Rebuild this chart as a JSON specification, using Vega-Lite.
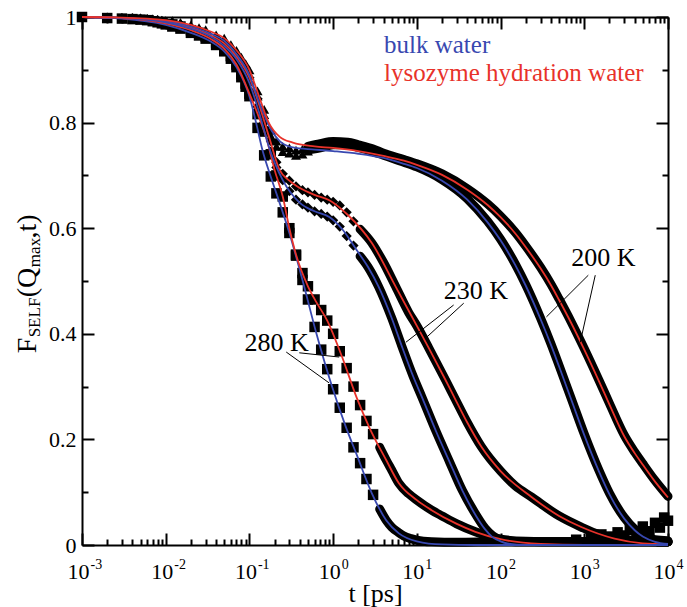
{
"$schema":"https://vega.github.io/schema/vega-lite/v6.json",
"width":586,"height":528,
"autosize":{"type":"none"},
"padding":{"left":82,"top":17,"right":19,"bottom":62},
"background":"white",
"config":{"view":{"stroke":null},"font":"Liberation Serif","axis":{"grid":false,"domainColor":"black","tickColor":"black","labelColor":"black","titleColor":"black","labelFont":"Liberation Serif","titleFont":"Liberation Serif","titleFontWeight":"normal"},"text":{"font":"Liberation Serif"}},
"datasets":{
"fits":[
{"T":"280","type":"bulk","t":0.001,"F":1},{"T":"280","type":"bulk","t":0.003,"F":0.997},{"T":"280","type":"bulk","t":0.01,"F":0.985},{"T":"280","type":"bulk","t":0.02,"F":0.97},{"T":"280","type":"bulk","t":0.035,"F":0.953},{"T":"280","type":"bulk","t":0.05,"F":0.935},{"T":"280","type":"bulk","t":0.07,"F":0.905},{"T":"280","type":"bulk","t":0.1,"F":0.85},{"T":"280","type":"bulk","t":0.12,"F":0.8},{"T":"280","type":"bulk","t":0.143,"F":0.748},{"T":"280","type":"bulk","t":0.175,"F":0.703},{"T":"280","type":"bulk","t":0.21,"F":0.666},{"T":"280","type":"bulk","t":0.3,"F":0.591},{"T":"280","type":"bulk","t":0.43,"F":0.502},{"T":"280","type":"bulk","t":0.63,"F":0.401},{"T":"280","type":"bulk","t":0.97,"F":0.3},{"T":"280","type":"bulk","t":1.4,"F":0.226},{"T":"280","type":"bulk","t":1.9,"F":0.172},{"T":"280","type":"bulk","t":2.9,"F":0.098},{"T":"280","type":"bulk","t":4.3,"F":0.047},{"T":"280","type":"bulk","t":6.1,"F":0.022},{"T":"280","type":"bulk","t":10,"F":0.007},{"T":"280","type":"bulk","t":20,"F":0.001},{"T":"280","type":"bulk","t":50,"F":0},{"T":"280","type":"bulk","t":10000,"F":0},
{"T":"280","type":"hydration","t":0.001,"F":1},{"T":"280","type":"hydration","t":0.003,"F":0.998},{"T":"280","type":"hydration","t":0.01,"F":0.988},{"T":"280","type":"hydration","t":0.02,"F":0.975},{"T":"280","type":"hydration","t":0.035,"F":0.958},{"T":"280","type":"hydration","t":0.05,"F":0.94},{"T":"280","type":"hydration","t":0.07,"F":0.91},{"T":"280","type":"hydration","t":0.1,"F":0.855},{"T":"280","type":"hydration","t":0.13,"F":0.81},{"T":"280","type":"hydration","t":0.16,"F":0.77},{"T":"280","type":"hydration","t":0.2,"F":0.71},{"T":"280","type":"hydration","t":0.25,"F":0.66},{"T":"280","type":"hydration","t":0.3,"F":0.6},{"T":"280","type":"hydration","t":0.36,"F":0.55},{"T":"280","type":"hydration","t":0.5,"F":0.49},{"T":"280","type":"hydration","t":0.63,"F":0.46},{"T":"280","type":"hydration","t":0.85,"F":0.425},{"T":"280","type":"hydration","t":1.28,"F":0.356},{"T":"280","type":"hydration","t":1.9,"F":0.28},{"T":"280","type":"hydration","t":2.7,"F":0.223},{"T":"280","type":"hydration","t":4.3,"F":0.161},{"T":"280","type":"hydration","t":6.1,"F":0.117},{"T":"280","type":"hydration","t":10,"F":0.085},{"T":"280","type":"hydration","t":15,"F":0.066},{"T":"280","type":"hydration","t":30,"F":0.04},{"T":"280","type":"hydration","t":50,"F":0.025},{"T":"280","type":"hydration","t":100,"F":0.011},{"T":"280","type":"hydration","t":300,"F":0.002},{"T":"280","type":"hydration","t":1000,"F":0},{"T":"280","type":"hydration","t":10000,"F":0},
{"T":"230","type":"hydration","t":0.001,"F":1},{"T":"230","type":"hydration","t":0.003,"F":0.998},{"T":"230","type":"hydration","t":0.01,"F":0.991},{"T":"230","type":"hydration","t":0.02,"F":0.98},{"T":"230","type":"hydration","t":0.035,"F":0.965},{"T":"230","type":"hydration","t":0.05,"F":0.95},{"T":"230","type":"hydration","t":0.07,"F":0.925},{"T":"230","type":"hydration","t":0.1,"F":0.885},{"T":"230","type":"hydration","t":0.13,"F":0.835},{"T":"230","type":"hydration","t":0.17,"F":0.775},{"T":"230","type":"hydration","t":0.23,"F":0.71},{"T":"230","type":"hydration","t":0.3,"F":0.69},{"T":"230","type":"hydration","t":0.4,"F":0.676},{"T":"230","type":"hydration","t":0.6,"F":0.663},{"T":"230","type":"hydration","t":0.9,"F":0.653},{"T":"230","type":"hydration","t":1.5,"F":0.625},{"T":"230","type":"hydration","t":2.9,"F":0.572},{"T":"230","type":"hydration","t":5.6,"F":0.489},{"T":"230","type":"hydration","t":10,"F":0.415},{"T":"230","type":"hydration","t":14,"F":0.372},{"T":"230","type":"hydration","t":22,"F":0.3125},{"T":"230","type":"hydration","t":29,"F":0.275},{"T":"230","type":"hydration","t":40,"F":0.232},{"T":"230","type":"hydration","t":59,"F":0.186},{"T":"230","type":"hydration","t":100,"F":0.14},{"T":"230","type":"hydration","t":234,"F":0.091},{"T":"230","type":"hydration","t":500,"F":0.055},{"T":"230","type":"hydration","t":920,"F":0.034},{"T":"230","type":"hydration","t":2300,"F":0.012},{"T":"230","type":"hydration","t":5000,"F":0.003},{"T":"230","type":"hydration","t":10000,"F":0.001},
{"T":"230","type":"bulk","t":0.001,"F":1},{"T":"230","type":"bulk","t":0.003,"F":0.998},{"T":"230","type":"bulk","t":0.01,"F":0.99},{"T":"230","type":"bulk","t":0.02,"F":0.978},{"T":"230","type":"bulk","t":0.035,"F":0.962},{"T":"230","type":"bulk","t":0.05,"F":0.945},{"T":"230","type":"bulk","t":0.07,"F":0.92},{"T":"230","type":"bulk","t":0.1,"F":0.875},{"T":"230","type":"bulk","t":0.13,"F":0.82},{"T":"230","type":"bulk","t":0.17,"F":0.755},{"T":"230","type":"bulk","t":0.25,"F":0.691},{"T":"230","type":"bulk","t":0.4,"F":0.648},{"T":"230","type":"bulk","t":0.6,"F":0.632},{"T":"230","type":"bulk","t":0.9,"F":0.621},{"T":"230","type":"bulk","t":1.3,"F":0.597},{"T":"230","type":"bulk","t":1.9,"F":0.559},{"T":"230","type":"bulk","t":2.6,"F":0.527},{"T":"230","type":"bulk","t":3.5,"F":0.489},{"T":"230","type":"bulk","t":5,"F":0.43},{"T":"230","type":"bulk","t":6.6,"F":0.377},{"T":"230","type":"bulk","t":9,"F":0.32},{"T":"230","type":"bulk","t":11.5,"F":0.28},{"T":"230","type":"bulk","t":17,"F":0.215},{"T":"230","type":"bulk","t":24.5,"F":0.158},{"T":"230","type":"bulk","t":35,"F":0.103},{"T":"230","type":"bulk","t":51,"F":0.055},{"T":"230","type":"bulk","t":65,"F":0.03},{"T":"230","type":"bulk","t":80,"F":0.015},{"T":"230","type":"bulk","t":100,"F":0.007},{"T":"230","type":"bulk","t":120,"F":0.003},{"T":"230","type":"bulk","t":200,"F":0},{"T":"230","type":"bulk","t":10000,"F":0},
{"T":"200","type":"bulk","t":0.001,"F":1},{"T":"200","type":"bulk","t":0.003,"F":0.998},{"T":"200","type":"bulk","t":0.01,"F":0.992},{"T":"200","type":"bulk","t":0.02,"F":0.982},{"T":"200","type":"bulk","t":0.035,"F":0.968},{"T":"200","type":"bulk","t":0.05,"F":0.955},{"T":"200","type":"bulk","t":0.07,"F":0.93},{"T":"200","type":"bulk","t":0.1,"F":0.89},{"T":"200","type":"bulk","t":0.13,"F":0.84},{"T":"200","type":"bulk","t":0.17,"F":0.795},{"T":"200","type":"bulk","t":0.23,"F":0.765},{"T":"200","type":"bulk","t":0.33,"F":0.753},{"T":"200","type":"bulk","t":0.6,"F":0.749},{"T":"200","type":"bulk","t":1,"F":0.746},{"T":"200","type":"bulk","t":2,"F":0.741},{"T":"200","type":"bulk","t":4,"F":0.733},{"T":"200","type":"bulk","t":7,"F":0.722},{"T":"200","type":"bulk","t":10,"F":0.714},{"T":"200","type":"bulk","t":20,"F":0.69},{"T":"200","type":"bulk","t":40,"F":0.654},{"T":"200","type":"bulk","t":70,"F":0.611},{"T":"200","type":"bulk","t":100,"F":0.577},{"T":"200","type":"bulk","t":150,"F":0.53},{"T":"200","type":"bulk","t":200,"F":0.491},{"T":"200","type":"bulk","t":300,"F":0.428},{"T":"200","type":"bulk","t":400,"F":0.379},{"T":"200","type":"bulk","t":500,"F":0.338},{"T":"200","type":"bulk","t":700,"F":0.275},{"T":"200","type":"bulk","t":1000,"F":0.208},{"T":"200","type":"bulk","t":1500,"F":0.139},{"T":"200","type":"bulk","t":2000,"F":0.096},{"T":"200","type":"bulk","t":3000,"F":0.05},{"T":"200","type":"bulk","t":4000,"F":0.028},{"T":"200","type":"bulk","t":5000,"F":0.016},{"T":"200","type":"bulk","t":7000,"F":0.006},{"T":"200","type":"bulk","t":10000,"F":0.002},
{"T":"200","type":"hydration","t":0.001,"F":1},{"T":"200","type":"hydration","t":0.003,"F":0.999},{"T":"200","type":"hydration","t":0.01,"F":0.994},{"T":"200","type":"hydration","t":0.02,"F":0.985},{"T":"200","type":"hydration","t":0.035,"F":0.972},{"T":"200","type":"hydration","t":0.05,"F":0.96},{"T":"200","type":"hydration","t":0.07,"F":0.937},{"T":"200","type":"hydration","t":0.1,"F":0.9},{"T":"200","type":"hydration","t":0.13,"F":0.85},{"T":"200","type":"hydration","t":0.17,"F":0.8},{"T":"200","type":"hydration","t":0.23,"F":0.773},{"T":"200","type":"hydration","t":0.33,"F":0.762},{"T":"200","type":"hydration","t":0.6,"F":0.755},{"T":"200","type":"hydration","t":1,"F":0.752},{"T":"200","type":"hydration","t":2,"F":0.746},{"T":"200","type":"hydration","t":4,"F":0.737},{"T":"200","type":"hydration","t":7,"F":0.728},{"T":"200","type":"hydration","t":10,"F":0.72},{"T":"200","type":"hydration","t":20,"F":0.701},{"T":"200","type":"hydration","t":40,"F":0.673},{"T":"200","type":"hydration","t":70,"F":0.644},{"T":"200","type":"hydration","t":100,"F":0.621},{"T":"200","type":"hydration","t":150,"F":0.59},{"T":"200","type":"hydration","t":200,"F":0.564},{"T":"200","type":"hydration","t":300,"F":0.524},{"T":"200","type":"hydration","t":400,"F":0.492},{"T":"200","type":"hydration","t":500,"F":0.464},{"T":"200","type":"hydration","t":700,"F":0.42},{"T":"200","type":"hydration","t":1000,"F":0.37},{"T":"200","type":"hydration","t":1500,"F":0.31},{"T":"200","type":"hydration","t":2000,"F":0.266},{"T":"200","type":"hydration","t":3000,"F":0.206},{"T":"200","type":"hydration","t":4000,"F":0.174},{"T":"200","type":"hydration","t":5000,"F":0.152},{"T":"200","type":"hydration","t":7000,"F":0.12},{"T":"200","type":"hydration","t":10000,"F":0.09}
],
"bands":[
{"T":"280","type":"bulk","t":3.6,"F":0.068},{"T":"280","type":"bulk","t":4.3,"F":0.047},{"T":"280","type":"bulk","t":5,"F":0.034},{"T":"280","type":"bulk","t":6,"F":0.024},{"T":"280","type":"bulk","t":7,"F":0.017},{"T":"280","type":"bulk","t":8.5,"F":0.012},{"T":"280","type":"bulk","t":10,"F":0.009},{"T":"280","type":"bulk","t":15,"F":0.006},{"T":"280","type":"bulk","t":30,"F":0.005},{"T":"280","type":"bulk","t":100,"F":0.006},{"T":"280","type":"bulk","t":1000,"F":0.006},{"T":"280","type":"bulk","t":10000,"F":0.006},
{"T":"280","type":"hydration","t":3.6,"F":0.185},{"T":"280","type":"hydration","t":4.3,"F":0.161},{"T":"280","type":"hydration","t":5,"F":0.142},{"T":"280","type":"hydration","t":6.1,"F":0.117},{"T":"280","type":"hydration","t":8,"F":0.097},{"T":"280","type":"hydration","t":10,"F":0.085},{"T":"280","type":"hydration","t":15,"F":0.066},{"T":"280","type":"hydration","t":20,"F":0.055},{"T":"280","type":"hydration","t":30,"F":0.04},{"T":"280","type":"hydration","t":50,"F":0.025},{"T":"280","type":"hydration","t":70,"F":0.017},{"T":"280","type":"hydration","t":100,"F":0.011},{"T":"280","type":"hydration","t":200,"F":0.007},{"T":"280","type":"hydration","t":500,"F":0.006},{"T":"280","type":"hydration","t":10000,"F":0.006},
{"T":"230","type":"bulk","t":2.1,"F":0.547},{"T":"230","type":"bulk","t":2.6,"F":0.527},{"T":"230","type":"bulk","t":3.5,"F":0.489},{"T":"230","type":"bulk","t":5,"F":0.43},{"T":"230","type":"bulk","t":6.6,"F":0.377},{"T":"230","type":"bulk","t":9,"F":0.32},{"T":"230","type":"bulk","t":11.5,"F":0.28},{"T":"230","type":"bulk","t":17,"F":0.215},{"T":"230","type":"bulk","t":24.5,"F":0.158},{"T":"230","type":"bulk","t":35,"F":0.103},{"T":"230","type":"bulk","t":51,"F":0.057},{"T":"230","type":"bulk","t":65,"F":0.032},{"T":"230","type":"bulk","t":80,"F":0.018},{"T":"230","type":"bulk","t":100,"F":0.01},{"T":"230","type":"bulk","t":150,"F":0.006},{"T":"230","type":"bulk","t":10000,"F":0.006},
{"T":"230","type":"hydration","t":2.1,"F":0.598},{"T":"230","type":"hydration","t":2.9,"F":0.572},{"T":"230","type":"hydration","t":4,"F":0.535},{"T":"230","type":"hydration","t":5.6,"F":0.489},{"T":"230","type":"hydration","t":8,"F":0.44},{"T":"230","type":"hydration","t":10,"F":0.415},{"T":"230","type":"hydration","t":14,"F":0.372},{"T":"230","type":"hydration","t":22,"F":0.3125},{"T":"230","type":"hydration","t":29,"F":0.275},{"T":"230","type":"hydration","t":40,"F":0.232},{"T":"230","type":"hydration","t":59,"F":0.186},{"T":"230","type":"hydration","t":100,"F":0.14},{"T":"230","type":"hydration","t":150,"F":0.112},{"T":"230","type":"hydration","t":234,"F":0.091},{"T":"230","type":"hydration","t":500,"F":0.055},{"T":"230","type":"hydration","t":920,"F":0.034},{"T":"230","type":"hydration","t":1500,"F":0.02},{"T":"230","type":"hydration","t":2300,"F":0.013},{"T":"230","type":"hydration","t":5000,"F":0.007},{"T":"230","type":"hydration","t":10000,"F":0.006},
{"T":"200","type":"bulk","t":0.5,"F":0.748},{"T":"200","type":"bulk","t":0.7,"F":0.752},{"T":"200","type":"bulk","t":1,"F":0.758},{"T":"200","type":"bulk","t":1.5,"F":0.758},{"T":"200","type":"bulk","t":2,"F":0.753},{"T":"200","type":"bulk","t":3,"F":0.745},{"T":"200","type":"bulk","t":4,"F":0.738},{"T":"200","type":"bulk","t":7,"F":0.725},{"T":"200","type":"bulk","t":10,"F":0.716},{"T":"200","type":"bulk","t":20,"F":0.692},{"T":"200","type":"bulk","t":40,"F":0.656},{"T":"200","type":"bulk","t":70,"F":0.613},{"T":"200","type":"bulk","t":100,"F":0.579},{"T":"200","type":"bulk","t":150,"F":0.532},{"T":"200","type":"bulk","t":200,"F":0.493},{"T":"200","type":"bulk","t":300,"F":0.43},{"T":"200","type":"bulk","t":400,"F":0.381},{"T":"200","type":"bulk","t":500,"F":0.34},{"T":"200","type":"bulk","t":700,"F":0.277},{"T":"200","type":"bulk","t":1000,"F":0.21},{"T":"200","type":"bulk","t":1500,"F":0.141},{"T":"200","type":"bulk","t":2000,"F":0.098},{"T":"200","type":"bulk","t":3000,"F":0.052},{"T":"200","type":"bulk","t":4000,"F":0.03},{"T":"200","type":"bulk","t":5000,"F":0.019},{"T":"200","type":"bulk","t":7000,"F":0.01},{"T":"200","type":"bulk","t":10000,"F":0.008},
{"T":"200","type":"hydration","t":0.5,"F":0.755},{"T":"200","type":"hydration","t":0.7,"F":0.76},{"T":"200","type":"hydration","t":1,"F":0.764},{"T":"200","type":"hydration","t":1.5,"F":0.763},{"T":"200","type":"hydration","t":2,"F":0.758},{"T":"200","type":"hydration","t":3,"F":0.75},{"T":"200","type":"hydration","t":4,"F":0.742},{"T":"200","type":"hydration","t":7,"F":0.73},{"T":"200","type":"hydration","t":10,"F":0.722},{"T":"200","type":"hydration","t":20,"F":0.703},{"T":"200","type":"hydration","t":40,"F":0.675},{"T":"200","type":"hydration","t":70,"F":0.646},{"T":"200","type":"hydration","t":100,"F":0.623},{"T":"200","type":"hydration","t":150,"F":0.592},{"T":"200","type":"hydration","t":200,"F":0.566},{"T":"200","type":"hydration","t":300,"F":0.526},{"T":"200","type":"hydration","t":400,"F":0.494},{"T":"200","type":"hydration","t":500,"F":0.466},{"T":"200","type":"hydration","t":700,"F":0.422},{"T":"200","type":"hydration","t":1000,"F":0.372},{"T":"200","type":"hydration","t":1500,"F":0.312},{"T":"200","type":"hydration","t":2000,"F":0.268},{"T":"200","type":"hydration","t":3000,"F":0.208},{"T":"200","type":"hydration","t":4000,"F":0.176},{"T":"200","type":"hydration","t":5000,"F":0.154},{"T":"200","type":"hydration","t":7000,"F":0.122},{"T":"200","type":"hydration","t":10000,"F":0.092}
],
"markers":[
{"T":"200","type":"bulk","t":0.001,"F":1},{"T":"200","type":"bulk","t":0.002,"F":0.999},{"T":"200","type":"bulk","t":0.003,"F":0.999},{"T":"200","type":"bulk","t":0.004,"F":0.998},{"T":"200","type":"bulk","t":0.005,"F":0.998},{"T":"200","type":"bulk","t":0.006,"F":0.997},{"T":"200","type":"bulk","t":0.007,"F":0.996},{"T":"200","type":"bulk","t":0.008,"F":0.995},{"T":"200","type":"bulk","t":0.009,"F":0.994},{"T":"200","type":"bulk","t":0.01,"F":0.993},
{"T":"230","type":"bulk","t":0.001,"F":1},{"T":"230","type":"bulk","t":0.002,"F":0.999},{"T":"230","type":"bulk","t":0.003,"F":0.998},{"T":"230","type":"bulk","t":0.004,"F":0.998},{"T":"230","type":"bulk","t":0.005,"F":0.997},{"T":"230","type":"bulk","t":0.006,"F":0.996},{"T":"230","type":"bulk","t":0.007,"F":0.995},{"T":"230","type":"bulk","t":0.008,"F":0.994},{"T":"230","type":"bulk","t":0.009,"F":0.992},{"T":"230","type":"bulk","t":0.01,"F":0.991},
{"T":"280","type":"bulk","t":0.001,"F":1},{"T":"280","type":"bulk","t":0.002,"F":0.998},{"T":"280","type":"bulk","t":0.003,"F":0.997},{"T":"280","type":"bulk","t":0.004,"F":0.996},{"T":"280","type":"bulk","t":0.005,"F":0.995},{"T":"280","type":"bulk","t":0.006,"F":0.994},{"T":"280","type":"bulk","t":0.007,"F":0.992},{"T":"280","type":"bulk","t":0.008,"F":0.99},{"T":"280","type":"bulk","t":0.009,"F":0.988},{"T":"280","type":"bulk","t":0.01,"F":0.986},
{"T":"200","type":"bulk","t":0.012,"F":0.991},{"T":"200","type":"bulk","t":0.015,"F":0.988},{"T":"200","type":"bulk","t":0.02,"F":0.982},{"T":"200","type":"bulk","t":0.025,"F":0.977},{"T":"200","type":"bulk","t":0.03,"F":0.972},{"T":"200","type":"bulk","t":0.04,"F":0.962},{"T":"200","type":"bulk","t":0.05,"F":0.955},{"T":"200","type":"bulk","t":0.06,"F":0.942},{"T":"200","type":"bulk","t":0.07,"F":0.93},{"T":"200","type":"bulk","t":0.08,"F":0.916},{"T":"200","type":"bulk","t":0.09,"F":0.903},{"T":"200","type":"bulk","t":0.1,"F":0.89},{"T":"200","type":"bulk","t":0.125,"F":0.85},{"T":"200","type":"bulk","t":0.15,"F":0.815},{"T":"200","type":"bulk","t":0.18,"F":0.775},{"T":"200","type":"bulk","t":0.21,"F":0.755},{"T":"200","type":"bulk","t":0.25,"F":0.745},{"T":"200","type":"bulk","t":0.3,"F":0.742},{"T":"200","type":"bulk","t":0.36,"F":0.738},{"T":"200","type":"bulk","t":0.43,"F":0.74},{"T":"200","type":"bulk","t":0.5,"F":0.746},
{"T":"200","type":"hydration","t":0.012,"F":0.993},{"T":"200","type":"hydration","t":0.015,"F":0.99},{"T":"200","type":"hydration","t":0.02,"F":0.985},{"T":"200","type":"hydration","t":0.025,"F":0.98},{"T":"200","type":"hydration","t":0.03,"F":0.976},{"T":"200","type":"hydration","t":0.04,"F":0.966},{"T":"200","type":"hydration","t":0.05,"F":0.96},{"T":"200","type":"hydration","t":0.06,"F":0.948},{"T":"200","type":"hydration","t":0.07,"F":0.937},{"T":"200","type":"hydration","t":0.08,"F":0.924},{"T":"200","type":"hydration","t":0.09,"F":0.912},{"T":"200","type":"hydration","t":0.1,"F":0.9},{"T":"200","type":"hydration","t":0.125,"F":0.86},{"T":"200","type":"hydration","t":0.15,"F":0.825},{"T":"200","type":"hydration","t":0.18,"F":0.785},{"T":"200","type":"hydration","t":0.21,"F":0.765},{"T":"200","type":"hydration","t":0.25,"F":0.755},{"T":"200","type":"hydration","t":0.3,"F":0.752},{"T":"200","type":"hydration","t":0.36,"F":0.748},{"T":"200","type":"hydration","t":0.43,"F":0.75},{"T":"200","type":"hydration","t":0.5,"F":0.755},
{"T":"230","type":"hydration","t":0.012,"F":0.989},{"T":"230","type":"hydration","t":0.015,"F":0.986},{"T":"230","type":"hydration","t":0.02,"F":0.98},{"T":"230","type":"hydration","t":0.025,"F":0.975},{"T":"230","type":"hydration","t":0.03,"F":0.97},{"T":"230","type":"hydration","t":0.04,"F":0.96},{"T":"230","type":"hydration","t":0.05,"F":0.95},{"T":"230","type":"hydration","t":0.06,"F":0.938},{"T":"230","type":"hydration","t":0.07,"F":0.925},{"T":"230","type":"hydration","t":0.08,"F":0.91},{"T":"230","type":"hydration","t":0.09,"F":0.898},{"T":"230","type":"hydration","t":0.1,"F":0.885},{"T":"230","type":"hydration","t":0.125,"F":0.845},{"T":"230","type":"hydration","t":0.15,"F":0.8},{"T":"230","type":"hydration","t":0.18,"F":0.765},{"T":"230","type":"hydration","t":0.21,"F":0.725},{"T":"230","type":"hydration","t":0.25,"F":0.703},{"T":"230","type":"hydration","t":0.3,"F":0.69},{"T":"230","type":"hydration","t":0.36,"F":0.679},{"T":"230","type":"hydration","t":0.43,"F":0.672},{"T":"230","type":"hydration","t":0.5,"F":0.668},{"T":"230","type":"hydration","t":0.6,"F":0.663},{"T":"230","type":"hydration","t":0.72,"F":0.658},{"T":"230","type":"hydration","t":0.85,"F":0.654},{"T":"230","type":"hydration","t":1,"F":0.65},{"T":"230","type":"hydration","t":1.2,"F":0.643},{"T":"230","type":"hydration","t":1.45,"F":0.63},{"T":"230","type":"hydration","t":1.75,"F":0.613},
{"T":"230","type":"bulk","t":0.012,"F":0.988},{"T":"230","type":"bulk","t":0.015,"F":0.985},{"T":"230","type":"bulk","t":0.02,"F":0.978},{"T":"230","type":"bulk","t":0.025,"F":0.972},{"T":"230","type":"bulk","t":0.03,"F":0.967},{"T":"230","type":"bulk","t":0.04,"F":0.956},{"T":"230","type":"bulk","t":0.05,"F":0.945},{"T":"230","type":"bulk","t":0.06,"F":0.933},{"T":"230","type":"bulk","t":0.07,"F":0.92},{"T":"230","type":"bulk","t":0.08,"F":0.903},{"T":"230","type":"bulk","t":0.09,"F":0.89},{"T":"230","type":"bulk","t":0.1,"F":0.875},{"T":"230","type":"bulk","t":0.125,"F":0.83},{"T":"230","type":"bulk","t":0.15,"F":0.79},{"T":"230","type":"bulk","t":0.18,"F":0.745},{"T":"230","type":"bulk","t":0.21,"F":0.715},{"T":"230","type":"bulk","t":0.25,"F":0.691},{"T":"230","type":"bulk","t":0.3,"F":0.67},{"T":"230","type":"bulk","t":0.36,"F":0.654},{"T":"230","type":"bulk","t":0.43,"F":0.645},{"T":"230","type":"bulk","t":0.5,"F":0.639},{"T":"230","type":"bulk","t":0.6,"F":0.632},{"T":"230","type":"bulk","t":0.72,"F":0.627},{"T":"230","type":"bulk","t":0.85,"F":0.622},{"T":"230","type":"bulk","t":1,"F":0.615},{"T":"230","type":"bulk","t":1.2,"F":0.603},{"T":"230","type":"bulk","t":1.45,"F":0.585},{"T":"230","type":"bulk","t":1.75,"F":0.567},
{"T":"280","type":"bulk","t":0.012,"F":0.982},{"T":"280","type":"bulk","t":0.015,"F":0.978},{"T":"280","type":"bulk","t":0.02,"F":0.97},{"T":"280","type":"bulk","t":0.025,"F":0.965},{"T":"280","type":"bulk","t":0.03,"F":0.959},{"T":"280","type":"bulk","t":0.04,"F":0.947},{"T":"280","type":"bulk","t":0.05,"F":0.935},{"T":"280","type":"bulk","t":0.06,"F":0.921},{"T":"280","type":"bulk","t":0.07,"F":0.905},{"T":"280","type":"bulk","t":0.08,"F":0.886},{"T":"280","type":"bulk","t":0.09,"F":0.868},{"T":"280","type":"bulk","t":0.1,"F":0.85},{"T":"280","type":"bulk","t":0.125,"F":0.79},{"T":"280","type":"bulk","t":0.15,"F":0.738},{"T":"280","type":"bulk","t":0.18,"F":0.698},{"T":"280","type":"bulk","t":0.21,"F":0.666},{"T":"280","type":"bulk","t":0.25,"F":0.63},{"T":"280","type":"bulk","t":0.3,"F":0.591},{"T":"280","type":"bulk","t":0.36,"F":0.548},{"T":"280","type":"bulk","t":0.43,"F":0.502},{"T":"280","type":"bulk","t":0.5,"F":0.465},{"T":"280","type":"bulk","t":0.6,"F":0.413},{"T":"280","type":"bulk","t":0.72,"F":0.37},{"T":"280","type":"bulk","t":0.85,"F":0.333},{"T":"280","type":"bulk","t":1,"F":0.295},{"T":"280","type":"bulk","t":1.2,"F":0.26},{"T":"280","type":"bulk","t":1.45,"F":0.222},{"T":"280","type":"bulk","t":1.75,"F":0.185},{"T":"280","type":"bulk","t":2.1,"F":0.155},{"T":"280","type":"bulk","t":2.5,"F":0.125},{"T":"280","type":"bulk","t":3,"F":0.095},
{"T":"280","type":"hydration","t":0.012,"F":0.986},{"T":"280","type":"hydration","t":0.015,"F":0.982},{"T":"280","type":"hydration","t":0.02,"F":0.975},{"T":"280","type":"hydration","t":0.025,"F":0.97},{"T":"280","type":"hydration","t":0.03,"F":0.963},{"T":"280","type":"hydration","t":0.04,"F":0.952},{"T":"280","type":"hydration","t":0.05,"F":0.94},{"T":"280","type":"hydration","t":0.06,"F":0.926},{"T":"280","type":"hydration","t":0.07,"F":0.91},{"T":"280","type":"hydration","t":0.08,"F":0.892},{"T":"280","type":"hydration","t":0.09,"F":0.874},{"T":"280","type":"hydration","t":0.1,"F":0.855},{"T":"280","type":"hydration","t":0.125,"F":0.816},{"T":"280","type":"hydration","t":0.15,"F":0.783},{"T":"280","type":"hydration","t":0.18,"F":0.74},{"T":"280","type":"hydration","t":0.21,"F":0.7},{"T":"280","type":"hydration","t":0.25,"F":0.66},{"T":"280","type":"hydration","t":0.3,"F":0.6},{"T":"280","type":"hydration","t":0.36,"F":0.55},{"T":"280","type":"hydration","t":0.43,"F":0.515},{"T":"280","type":"hydration","t":0.5,"F":0.49},{"T":"280","type":"hydration","t":0.6,"F":0.465},{"T":"280","type":"hydration","t":0.72,"F":0.445},{"T":"280","type":"hydration","t":0.85,"F":0.425},{"T":"280","type":"hydration","t":1,"F":0.4},{"T":"280","type":"hydration","t":1.2,"F":0.367},{"T":"280","type":"hydration","t":1.45,"F":0.335},{"T":"280","type":"hydration","t":1.75,"F":0.3},{"T":"280","type":"hydration","t":2.1,"F":0.265},{"T":"280","type":"hydration","t":2.5,"F":0.235},{"T":"280","type":"hydration","t":3,"F":0.21},
{"T":"280","type":"bulk","t":800,"F":0.01},{"T":"280","type":"bulk","t":1200,"F":0.014},{"T":"280","type":"bulk","t":1600,"F":0.02},{"T":"280","type":"bulk","t":2000,"F":0.016},{"T":"280","type":"bulk","t":2500,"F":0.024},{"T":"280","type":"bulk","t":3000,"F":0.018},{"T":"280","type":"bulk","t":3500,"F":0.028},{"T":"280","type":"bulk","t":4200,"F":0.022},{"T":"280","type":"bulk","t":5000,"F":0.035},{"T":"280","type":"bulk","t":6000,"F":0.026},{"T":"280","type":"bulk","t":7000,"F":0.042},{"T":"280","type":"bulk","t":8000,"F":0.033},{"T":"280","type":"bulk","t":9000,"F":0.052},{"T":"280","type":"bulk","t":10000,"F":0.046}
],
"notes":[{"label":"200 K","t":700,"F":0.5436},{"label":"230 K","t":20.9,"F":0.481},{"label":"280 K","t":0.0873,"F":0.3835}],
"pointers":[{"t1":0.275,"F1":0.3655,"t2":0.895,"F2":0.307},{"t1":0.394,"F1":0.364,"t2":1.18,"F2":0.356},{"t1":27.5,"F1":0.4545,"t2":7.4,"F2":0.384},{"t1":36.3,"F1":0.458,"t2":13.2,"F2":0.394},{"t1":1117,"F1":0.511,"t2":353,"F2":0.432},{"t1":1352,"F1":0.511,"t2":895,"F2":0.384}],
"legend":[{"label":"bulk water","type":"bulk","t":4.05,"F":0.9318},{"label":"lysozyme hydration water","type":"hydration","t":4.05,"F":0.8788}]
},
"layer":[
{"data":{"name":"bands"},
 "mark":{"type":"line","color":"black","strokeWidth":9,"strokeCap":"round","strokeJoin":"round","interpolate":"monotone"},
 "encoding":{
  "x":{"field":"t","type":"quantitative","scale":{"type":"log","domain":[0.001,10000],"nice":false},
   "axis":{"orient":"bottom","values":[0.001,0.002,0.003,0.004,0.005,0.006,0.007,0.008,0.009,0.01,0.02,0.03,0.04,0.05,0.06,0.07,0.08,0.09,0.1,0.2,0.3,0.4,0.5,0.6,0.7,0.8,0.9,1,2,3,4,5,6,7,8,9,10,20,30,40,50,60,70,80,90,100,200,300,400,500,600,700,800,900,1000,2000,3000,4000,5000,6000,7000,8000,9000,10000],
    "labelExpr":"abs(log(datum.value)/LN10-round(log(datum.value)/LN10))<0.01 ? '10' : ''",
    "tickSize":{"condition":{"test":"abs(log(datum.value)/LN10-round(log(datum.value)/LN10))<0.01","value":-12},"value":-6},
    "tickWidth":2,"domainWidth":2,"labelFont":"Liberation Serif","labelFontSize":22,"labelPadding":45,"labelBaseline":"alphabetic","labelAlign":"center","labelOffset":-4,"labelFlush":false,"labelOverlap":false,"labelBound":false,
    "title":"t [ps]","titleFont":"Liberation Serif","titleFontSize":26,"titleY":56,"titleBaseline":"alphabetic"}},
  "y":{"field":"F","type":"quantitative","scale":{"domain":[0,1],"nice":false,"zero":false},
   "axis":{"orient":"left","values":[0,0.1,0.2,0.3,0.4,0.5,0.6,0.7,0.8,0.9,1],
    "labelExpr":"round(datum.value*10)%2==0 ? ''+round(datum.value*10)/10 : ''",
    "tickSize":{"condition":{"test":"round(datum.value*10)%2==0","value":-12},"value":-6},
    "tickWidth":2,"domainWidth":2,"labelFont":"Liberation Serif","labelFontSize":22,"labelPadding":18,"labelBaseline":"middle","labelAlign":"right","labelFlush":false,"labelOverlap":false,"labelBound":false,
    "title":"F","titleFont":"Liberation Serif","titleFontSize":28,"titleAngle":270,"titleX":-47,"titleY":328,"titleAlign":"center","titleBaseline":"alphabetic"}},
  "detail":[{"field":"T"},{"field":"type"}]}},
{"data":{"name":"markers"},
 "mark":{"type":"point","filled":true,"color":"black","opacity":1,"strokeWidth":0},
 "encoding":{
  "x":{"field":"t","type":"quantitative","scale":{"type":"log","domain":[0.001,10000],"nice":false},
   "axis":{"orient":"bottom","values":[0.001,0.01,0.1,1,10,100,1000,10000],"labelExpr":"''+round(log(datum.value)/LN10)","ticks":false,"domain":false,"labelFont":"Liberation Serif","labelFontSize":14,"labelPadding":23,"labelBaseline":"alphabetic","labelAlign":"left","labelOffset":8,"labelFlush":false,"labelOverlap":false,"labelBound":false,"title":null}},
  "y":{"field":"F","type":"quantitative","scale":{"domain":[0,1],"nice":false,"zero":false},
   "axis":{"orient":"left","labels":false,"ticks":false,"domain":false,"title":"SELF","titleFont":"Liberation Serif","titleFontSize":17,"titleAngle":270,"titleX":-43,"titleY":300,"titleAlign":"center","titleBaseline":"alphabetic"}},
  "shape":{"field":"T","type":"nominal","scale":{"domain":["200","230","280"],"range":["triangle-up","diamond","square"]},"legend":null},
  "size":{"field":"T","type":"ordinal","scale":{"domain":["200","230","280"],"range":[100,110,80]},"legend":null}}},
{"data":{"name":"fits"},
 "mark":{"type":"line","strokeWidth":1.8,"interpolate":"monotone"},
 "encoding":{
  "x":{"field":"t","type":"quantitative","scale":{"type":"log","domain":[0.001,10000],"nice":false},
   "axis":{"orient":"top","values":[0.001,0.002,0.003,0.004,0.005,0.006,0.007,0.008,0.009,0.01,0.02,0.03,0.04,0.05,0.06,0.07,0.08,0.09,0.1,0.2,0.3,0.4,0.5,0.6,0.7,0.8,0.9,1,2,3,4,5,6,7,8,9,10,20,30,40,50,60,70,80,90,100,200,300,400,500,600,700,800,900,1000,2000,3000,4000,5000,6000,7000,8000,9000,10000],
    "labels":false,"tickSize":{"condition":{"test":"abs(log(datum.value)/LN10-round(log(datum.value)/LN10))<0.01","value":-12},"value":-6},"tickWidth":2,"domainWidth":2,"title":null}},
  "y":{"field":"F","type":"quantitative","scale":{"domain":[0,1],"nice":false,"zero":false},
   "axis":{"orient":"right","values":[0,0.1,0.2,0.3,0.4,0.5,0.6,0.7,0.8,0.9,1],"labels":false,
    "tickSize":{"condition":{"test":"round(datum.value*10)%2==0","value":-12},"value":-6},"tickWidth":2,"domainWidth":2,"title":null}},
  "color":{"field":"type","type":"nominal","scale":{"domain":["bulk","hydration"],"range":["#3848b0","#e8322a"]},"legend":null},
  "detail":{"field":"T"}}},
{"data":{"name":"pointers"},
 "mark":{"type":"rule","color":"black","strokeWidth":1},
 "encoding":{
  "x":{"field":"t1","type":"quantitative","scale":{"type":"log","domain":[0.001,10000],"nice":false},"axis":null},
  "x2":{"field":"t2"},
  "y":{"field":"F1","type":"quantitative","scale":{"domain":[0,1],"nice":false,"zero":false},
   "axis":{"orient":"left","labels":false,"ticks":false,"domain":false,"title":"(Q","titleFont":"Liberation Serif","titleFontSize":28,"titleAngle":270,"titleX":-47,"titleY":265,"titleAlign":"center","titleBaseline":"alphabetic"}},
  "y2":{"field":"F2"}}},
{"data":{"name":"notes"},
 "mark":{"type":"text","align":"left","baseline":"middle","fontSize":26,"font":"Liberation Serif","color":"black"},
 "encoding":{
  "x":{"field":"t","type":"quantitative","scale":{"type":"log","domain":[0.001,10000],"nice":false},"axis":null},
  "y":{"field":"F","type":"quantitative","scale":{"domain":[0,1],"nice":false,"zero":false},
   "axis":{"orient":"left","labels":false,"ticks":false,"domain":false,"title":"max","titleFont":"Liberation Serif","titleFontSize":17,"titleAngle":270,"titleX":-43,"titleY":235,"titleAlign":"center","titleBaseline":"alphabetic"}},
  "text":{"field":"label"}}},
{"data":{"name":"legend"},
 "mark":{"type":"text","align":"left","baseline":"alphabetic","fontSize":25,"font":"Liberation Serif"},
 "encoding":{
  "x":{"field":"t","type":"quantitative","scale":{"type":"log","domain":[0.001,10000],"nice":false},"axis":null},
  "y":{"field":"F","type":"quantitative","scale":{"domain":[0,1],"nice":false,"zero":false},
   "axis":{"orient":"left","labels":false,"ticks":false,"domain":false,"title":",t)","titleFont":"Liberation Serif","titleFontSize":28,"titleAngle":270,"titleX":-47,"titleY":209,"titleAlign":"center","titleBaseline":"alphabetic"}},
  "color":{"field":"type","type":"nominal","scale":{"domain":["bulk","hydration"],"range":["#3848b0","#e8322a"]},"legend":null},
  "text":{"field":"label"}}}
],
"resolve":{"axis":{"x":"independent","y":"independent"}}
}
